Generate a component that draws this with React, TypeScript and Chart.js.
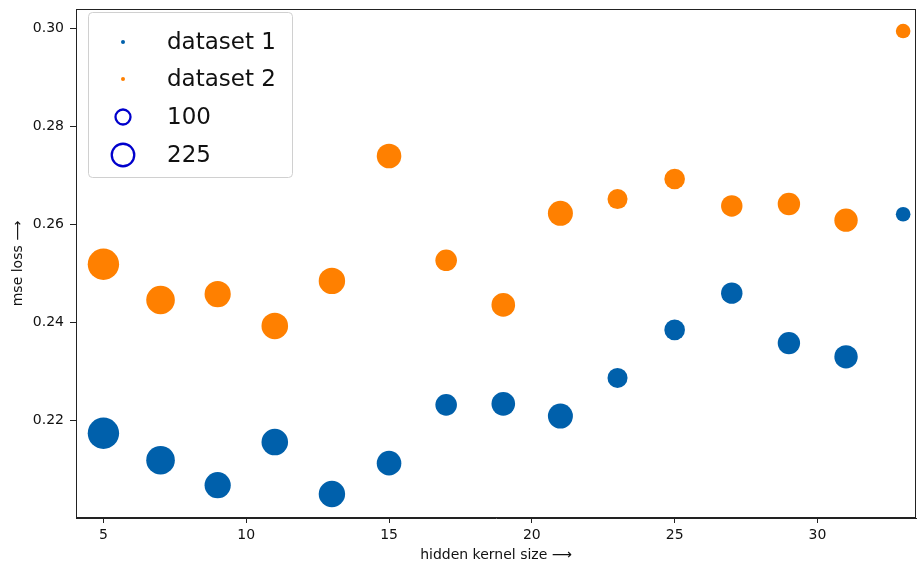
import React, { useEffect, useRef } from 'react';
import { Chart, registerables } from 'chart.js';

Chart.register(...registerables);

const kernelSizes = [5, 7, 9, 11, 13, 15, 17, 19, 21, 23, 25, 27, 29, 31, 33];
const dataset1Loss = [0.2173, 0.2118, 0.2067, 0.2155, 0.2049, 0.2112, 0.2231, 0.2233, 0.2208, 0.2286, 0.2384, 0.2459, 0.2357, 0.2329, 0.262];
const dataset2Loss = [0.2518, 0.2445, 0.2457, 0.2392, 0.2484, 0.2739, 0.2526, 0.2435, 0.2622, 0.2651, 0.2692, 0.2637, 0.2641, 0.2608, 0.2994];
const markerSizes = [438, 364, 305, 314, 310, 269, 207, 248, 278, 178, 189, 204, 223, 243, 95];
const seriesLabels = ['dataset 1', 'dataset 2'];
const sizeLegendValues = [100, 225];
const xTicks = [5, 10, 15, 20, 25, 30];
const yTicks = [0.22, 0.24, 0.26, 0.28, 0.3];

const BLUE = '#0060ab';
const ORANGE = '#ff8000';
const LEGEND_RING = '#0000cc';
const FONT = '"DejaVu Sans", sans-serif';

const sizeToRadius = (s: number) => 0.75 * Math.sqrt(s);

const frameAndLegend = {
  id: 'frameAndLegend',
  afterDraw(chart: any) {
    const ctx = chart.ctx as CanvasRenderingContext2D;
    const a = chart.chartArea;
    ctx.save();
    // axes frame
    ctx.strokeStyle = '#222';
    ctx.lineWidth = 1;
    ctx.strokeRect(a.left + 0.5, a.top + 0.5, a.right - a.left - 1, a.bottom - a.top - 1);

    // legend box
    const bx = a.left + 12.5;
    const by = a.top + 3.5;
    const bw = 204;
    const bh = 165;
    ctx.beginPath();
    (ctx as any).roundRect(bx, by, bw, bh, 4);
    ctx.fillStyle = 'rgba(255,255,255,0.85)';
    ctx.fill();
    ctx.strokeStyle = '#d0d0d0';
    ctx.lineWidth = 1;
    ctx.stroke();

    const markerX = a.left + 47;
    const textX = a.left + 91;
    const rows = [a.top + 33, a.top + 70, a.top + 108, a.top + 146];
    ctx.font = `23px ${FONT}`;
    ctx.textBaseline = 'middle';
    ctx.textAlign = 'left';
    const colors = [BLUE, ORANGE];
    seriesLabels.forEach((lab, i) => {
      ctx.beginPath();
      ctx.arc(markerX, rows[i], 2, 0, Math.PI * 2);
      ctx.fillStyle = colors[i];
      ctx.fill();
      ctx.fillStyle = '#111';
      ctx.fillText(lab, textX, rows[i] + 1);
    });
    sizeLegendValues.forEach((v, j) => {
      const y = rows[2 + j];
      ctx.beginPath();
      ctx.arc(markerX, y, sizeToRadius(v), 0, Math.PI * 2);
      ctx.strokeStyle = LEGEND_RING;
      ctx.lineWidth = 2.3;
      ctx.stroke();
      ctx.fillStyle = '#111';
      ctx.fillText(String(v), textX, y + 1);
    });
    ctx.restore();
  },
};

export default function App() {
  const ref = useRef<HTMLCanvasElement | null>(null);

  useEffect(() => {
    document.body.style.margin = '0';
    const canvas = ref.current;
    if (!canvas) return;
    const makeData = (ys: number[]) =>
      kernelSizes.map((x, i) => ({ x, y: ys[i], r: sizeToRadius(markerSizes[i]) }));

    const chart = new Chart(canvas, {
      type: 'bubble',
      data: {
        datasets: [
          { label: seriesLabels[0], data: makeData(dataset1Loss), backgroundColor: BLUE, borderWidth: 0 },
          { label: seriesLabels[1], data: makeData(dataset2Loss), backgroundColor: ORANGE, borderWidth: 0 },
        ],
      },
      options: {
        responsive: false,
        animation: false,
        events: [],
        layout: { autoPadding: false, padding: { top: 9, right: 2, left: 0, bottom: 0 } },
        plugins: { legend: { display: false }, tooltip: { enabled: false } },
        scales: {
          x: {
            type: 'linear',
            min: 4.04,
            max: 33.45,
            afterBuildTicks: (s: any) => {
              s.ticks = xTicks.map((v) => ({ value: v }));
            },
            afterFit: (s: any) => {
              s.height = 50;
              s.paddingLeft = 0;
              s.paddingRight = 0;
            },
            ticks: { font: { family: FONT, size: 14 }, color: '#111', padding: 4, maxRotation: 0, callback: (v: any) => String(v) },
            grid: { display: true, drawOnChartArea: false, drawTicks: true, tickLength: 5, tickColor: '#222' },
            border: { display: true, color: '#222' },
            title: { display: true, text: 'hidden kernel size ⟶', font: { family: FONT, size: 14 }, color: '#111', padding: { top: 0, bottom: 4 } },
          },
          y: {
            type: 'linear',
            min: 0.2,
            max: 0.3039,
            afterBuildTicks: (s: any) => {
              s.ticks = yTicks.map((v) => ({ value: v }));
            },
            afterFit: (s: any) => {
              s.width = 76;
              s.paddingTop = 0;
              s.paddingBottom = 0;
            },
            ticks: { font: { family: FONT, size: 14 }, color: '#111', padding: 6, callback: (v: any) => Number(v).toFixed(2) },
            grid: { display: true, drawOnChartArea: false, drawTicks: true, tickLength: 6, tickColor: '#222' },
            border: { display: true, color: '#222' },
            title: { display: true, text: 'mse loss ⟶', font: { family: FONT, size: 14 }, color: '#111', padding: { top: 10, bottom: 0 } },
          },
        },
      },
      plugins: [frameAndLegend],
    } as any);
    return () => chart.destroy();
  }, []);

  return (
    <div style={{ width: 918, height: 568 }}>
      <canvas ref={ref} width={918} height={568} style={{ display: 'block', width: 918, height: 568 }} />
    </div>
  );
}
